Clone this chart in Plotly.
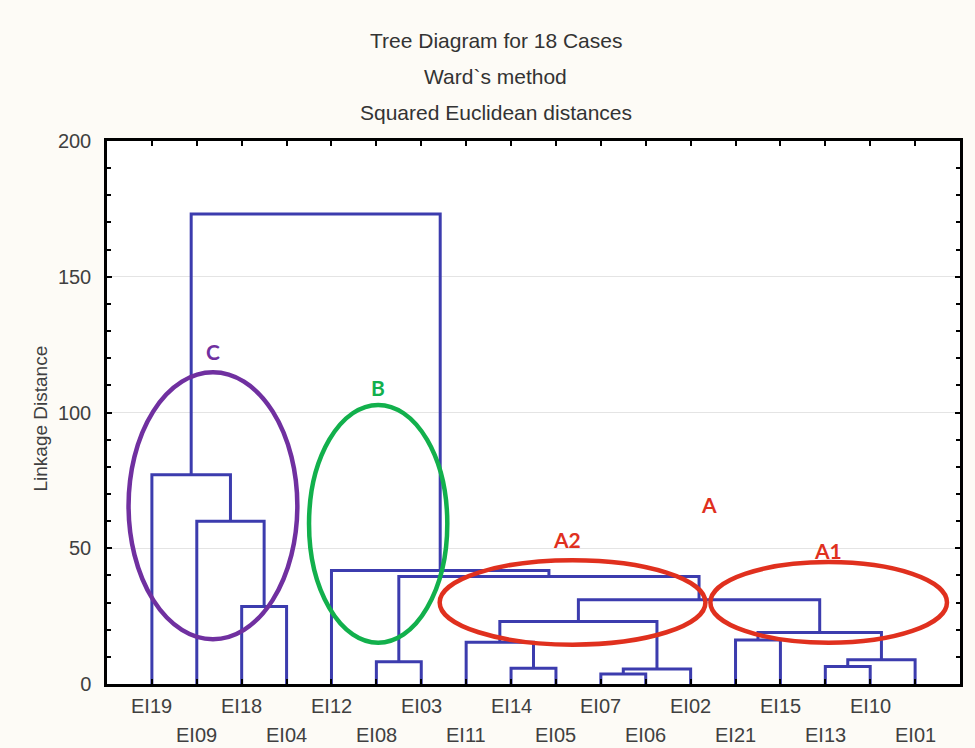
import plotly.graph_objects as go

# Leaf order along the horizontal axis
leaves = ["EI19", "EI09", "EI18", "EI04", "EI12", "EI08", "EI03", "EI11", "EI14",
          "EI05", "EI07", "EI06", "EI02", "EI21", "EI15", "EI13", "EI10", "EI01"]

# Ward linkage steps: node "mK" is the result of step K
merge_left = ["EI07", "m0", "EI14", "EI13", "EI08", "m3", "EI11", "EI21", "m7",
              "m6", "EI18", "m9", "m4", "EI12", "EI09", "EI19", "m15"]
merge_right = ["EI06", "EI02", "EI05", "EI10", "EI03", "EI01", "m2", "EI15", "m5",
               "m1", "EI04", "m8", "m11", "m12", "m10", "m14", "m13"]
merge_height = [3.7, 5.5, 5.8, 6.4, 8.2, 8.9, 15.4, 16.2, 19.0,
                23.0, 28.5, 31.0, 39.6, 41.8, 59.9, 77.1, 173.1]

# Cluster outlines (x0, x1, y0, y1 in axis units) and their captions
groups = ["C", "B", "A2", "A1"]
group_colors = ["#7030a0", "#12b04c", "#e0301e", "#e0301e"]
group_bounds = [(-0.52, 3.24, 16.5, 114.8),
                (3.50, 6.58, 15.2, 102.8),
                (6.41, 12.33, 14.5, 45.6),
                (12.44, 17.71, 15.2, 44.9)]
captions = ["C", "B", "A", "A2", "A1"]
caption_colors = ["#7030a0", "#12b04c", "#e0301e", "#e0301e", "#e0301e"]
caption_x = [1.36, 5.03, 12.42, 9.25, 15.05]
caption_y = [122.5, 109.2, 66.1, 53.1, 49.1]

title_lines = ["Tree Diagram for 18 Cases", "Ward`s method", "Squared Euclidean distances"]

# Build the dendrogram polyline
pos = {name: float(i) for i, name in enumerate(leaves)}
level = {name: 0.0 for name in leaves}
xs, ys = [], []
for k, (a, b, h) in enumerate(zip(merge_left, merge_right, merge_height)):
    xa, xb = pos[a], pos[b]
    xs += [xa, xa, xb, xb, None]
    ys += [level[a], h, h, level[b], None]
    pos[f"m{k}"] = (xa + xb) / 2
    level[f"m{k}"] = h

fig = go.Figure()
fig.add_trace(go.Scatter(x=xs, y=ys, mode="lines",
                         line=dict(color="#3c3cae", width=3),
                         hoverinfo="skip", showlegend=False))

shapes = []
for (x0, x1, y0, y1), col in zip(group_bounds, group_colors):
    shapes.append(dict(type="circle", xref="x", yref="y", x0=x0, x1=x1, y0=y0, y1=y1,
                       line=dict(color=col, width=4.5), layer="above"))

annotations = []
for txt, col, cx, cy in zip(captions, caption_colors, caption_x, caption_y):
    annotations.append(dict(x=cx, y=cy, xref="x", yref="y", text=f"<b>{txt}</b>",
                            showarrow=False, font=dict(family="Lato", size=21, color=col)))

# Leaf labels in two staggered rows
for i, name in enumerate(leaves):
    annotations.append(dict(x=i, y=0, xref="x", yref="paper", yanchor="middle",
                            yshift=-22 if i % 2 == 0 else -51, text=name, showarrow=False,
                            font=dict(family="Liberation Sans", size=20, color="#404040")))

# Three-line heading
for j, line in enumerate(title_lines):
    annotations.append(dict(x=0.456, y=1, xref="paper", yref="paper", yanchor="middle",
                            yshift=141 - (40 + 36 * j), text=line, showarrow=False,
                            font=dict(family="Liberation Sans", size=21, color="#333333")))

annotations.append(dict(x=0, y=0.5, xref="paper", yref="paper", xanchor="center",
                        yanchor="middle", xshift=-67, yshift=-6,
                        text="Linkage Distance", textangle=-90, showarrow=False,
                        font=dict(family="Liberation Sans", size=19, color="#404040")))

fig.update_layout(
    width=975, height=748,
    margin=dict(l=107, r=13, t=141, b=64),
    paper_bgcolor="#fdfbf6", plot_bgcolor="white",
    shapes=shapes, annotations=annotations,
    xaxis=dict(range=[-1, 18], tickvals=list(range(len(leaves))), showticklabels=False,
               ticks="inside", ticklen=5, tickwidth=2, tickcolor="black",
               showline=True, linecolor="black", linewidth=2.5, mirror="ticks",
               showgrid=False, zeroline=False),
    yaxis=dict(range=[0, 200], tick0=0, dtick=50, ticks="inside", ticklen=5, tickwidth=2,
               tickcolor="black", showline=True, linecolor="black", linewidth=2.5,
               mirror="ticks", showgrid=True, gridcolor="#e4e4e4", gridwidth=1,
               zeroline=False, ticklabelstandoff=9,
               tickfont=dict(family="Liberation Sans", size=20, color="#404040"),
               minor=dict(dtick=10, ticks="inside", ticklen=4, tickwidth=2,
                          tickcolor="black", showgrid=False)),
)

fig.write_html("out.html")
